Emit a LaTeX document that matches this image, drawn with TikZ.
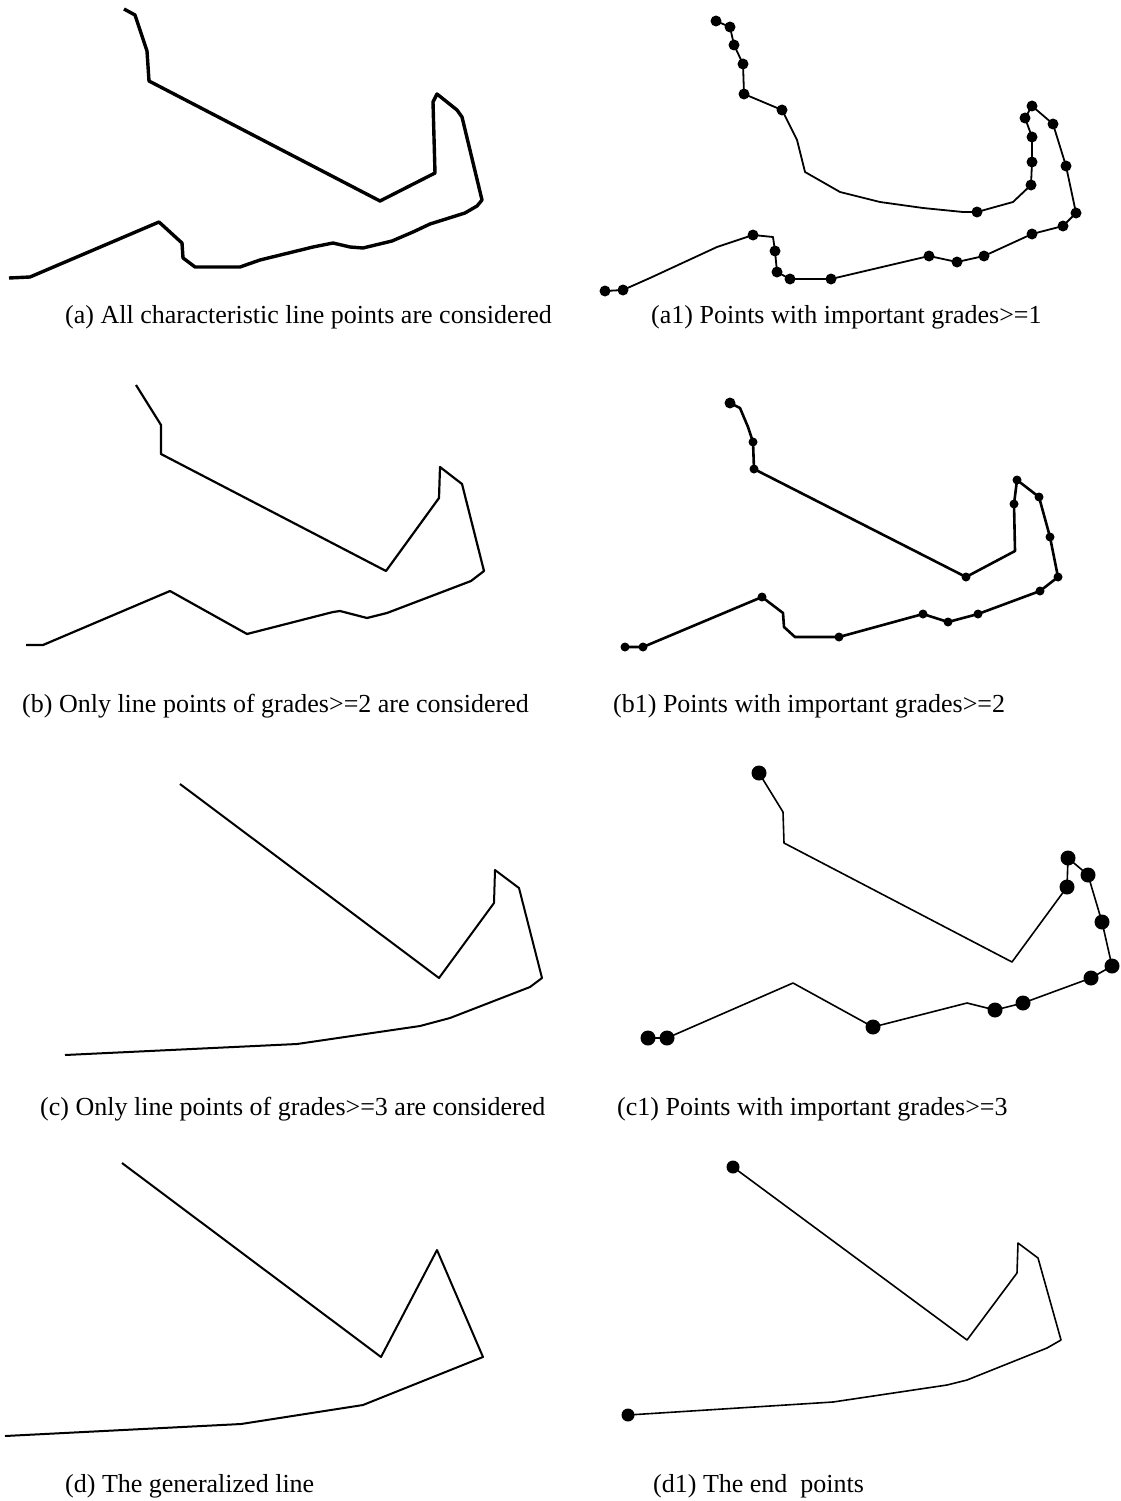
\documentclass[tikz,border=0pt]{standalone}
\usepackage{fontspec}
\setmainfont{Liberation Serif}
\begin{document}
\begin{tikzpicture}[x=1pt,y=-1pt,
  thickline/.style={line width=3.4pt,line join=round},
  medline/.style={line width=2.2pt,line join=round},
  thinline/.style={line width=1.6pt,line join=round},
  captext/.style={anchor=base west,inner sep=0pt,font=\fontsize{26}{30}\selectfont}]
\useasboundingbox (0,0) rectangle (1121,1501);
% (a)
\draw[thickline] (124,9) -- (135,15) -- (147,51) -- (149,81) -- (380,201) -- (435,173) -- (433,102) -- (437,94) -- (457,110) -- (462,117) -- (482,200) -- (477,206) -- (465,213) -- (430,224) -- (413,232) -- (392,241) -- (363,248) -- (350,247) -- (333,243) -- (313,247) -- (260,260) -- (240,267) -- (195,267) -- (183,258) -- (182,243) -- (159,222) -- (30,277) -- (9,278);
% (a1)
\draw[medline,line width=1.8pt] (605,291) -- (623,290) -- (650,278) -- (717,247) -- (753,235) -- (773,237) -- (775,251) -- (777,272) -- (790,279) -- (831,279) -- (929,256) -- (957,262) -- (984,256) -- (1032,234) -- (1063,226) -- (1076,213) -- (1066,166) -- (1053,124) -- (1032,106) -- (1025,118) -- (1032,137) -- (1032,162) -- (1031,185) -- (1013,202) -- (977,212) -- (963,212) -- (923,208) -- (880,202) -- (840,192) -- (805,172) -- (797,140) -- (782,110) -- (744,94) -- (743,64) -- (734,45) -- (730,27) -- (716,21);
\foreach \p in {(716,21),(730,27),(734,45),(743,64),(744,94),(782,110),(977,212),(1031,185),(1032,162),(1032,137),(1025,118),(1032,106),(1053,124),(1066,166),(1076,213),(1063,226),(1032,234),(984,256),(957,262),(929,256),(831,279),(790,279),(777,272),(775,251),(753,235),(623,290),(605,291)}
  \fill \p circle[radius=5.5pt];
% (b)
\draw[medline] (136,385) -- (161,425) -- (161,454) -- (386,571) -- (439,498) -- (440,467) -- (462,484) -- (484,571) -- (471,581) -- (387,613) -- (367,618) -- (340,611) -- (333,612) -- (247,634) -- (170,591) -- (43,645) -- (26,645);
% (b1)
\draw[medline,line width=2.6pt] (730,403) -- (740,408) -- (748,427) -- (753,442) -- (754,469) -- (966,577) -- (1015,551) -- (1014,504) -- (1017,480) -- (1039,497) -- (1050,537) -- (1058,577) -- (1040,591) -- (978,614) -- (948,622) -- (923,614) -- (839,637) -- (795,637) -- (784,627) -- (783,613) -- (762,597) -- (643,647) -- (625,647);
\foreach \p in {(753,442),(754,469),(966,577),(1014,504),(1017,480),(1039,497),(1050,537),(1058,577),(1040,591),(978,614),(948,622),(923,614),(839,637),(762,597),(643,647),(625,647)}
  \fill \p circle[radius=4.5pt];
\fill (730,403) circle[radius=5.5pt];
% (c)
\draw[medline,line width=2pt] (180,784) -- (439,978) -- (494,903) -- (495,870) -- (519,888) -- (542,978) -- (530,987) -- (450,1018) -- (420,1026) -- (297,1044) -- (65,1055);
% (c1)
\draw[thinline] (759,773) -- (783,812) -- (784,843) -- (1012,962) -- (1067,887) -- (1068,858) -- (1088,875) -- (1102,922) -- (1112,966) -- (1091,978) -- (1023,1003) -- (995,1010) -- (967,1003) -- (873,1027) -- (793,983) -- (667,1038) -- (648,1038);
\foreach \p in {(759,773),(1067,887),(1068,858),(1088,875),(1102,922),(1112,966),(1091,978),(1023,1003),(995,1010),(873,1027),(667,1038),(648,1038)}
  \fill \p circle[radius=7.5pt];
% (d)
\draw[medline,line width=2pt] (122,1163) -- (381,1357) -- (437,1250) -- (483,1357) -- (363,1405) -- (241,1424) -- (5,1436);
% (d1)
\draw[thinline] (733,1167) -- (967,1340) -- (1017,1273) -- (1018,1243) -- (1038,1258) -- (1061,1340) -- (1047,1348) -- (967,1380) -- (947,1385) -- (833,1402) -- (628,1415);
\fill (733,1167) circle[radius=6.5pt];
\fill (628,1415) circle[radius=6.5pt];
% captions
\node[captext] (capa)  at (65,323)   {(a) All characteristic line points are considered};
\node[captext] (capa1) at (651,323)  {(a1) Points with important grades>=1};
\node[captext] (capb)  at (22,712)   {(b) Only line points of grades>=2 are considered};
\node[captext] (capb1) at (613,712)  {(b1) Points with important grades>=2};
\node[captext] (capc)  at (40,1115)  {(c) Only line points of grades>=3 are considered};
\node[captext] (capc1) at (617,1115) {(c1) Points with important grades>=3};
\node[captext] (capd)  at (65,1492)  {(d) The generalized line};
\node[captext] (capd1) at (653,1492) {(d1) The end\ \ points};
\end{tikzpicture}
\end{document}
